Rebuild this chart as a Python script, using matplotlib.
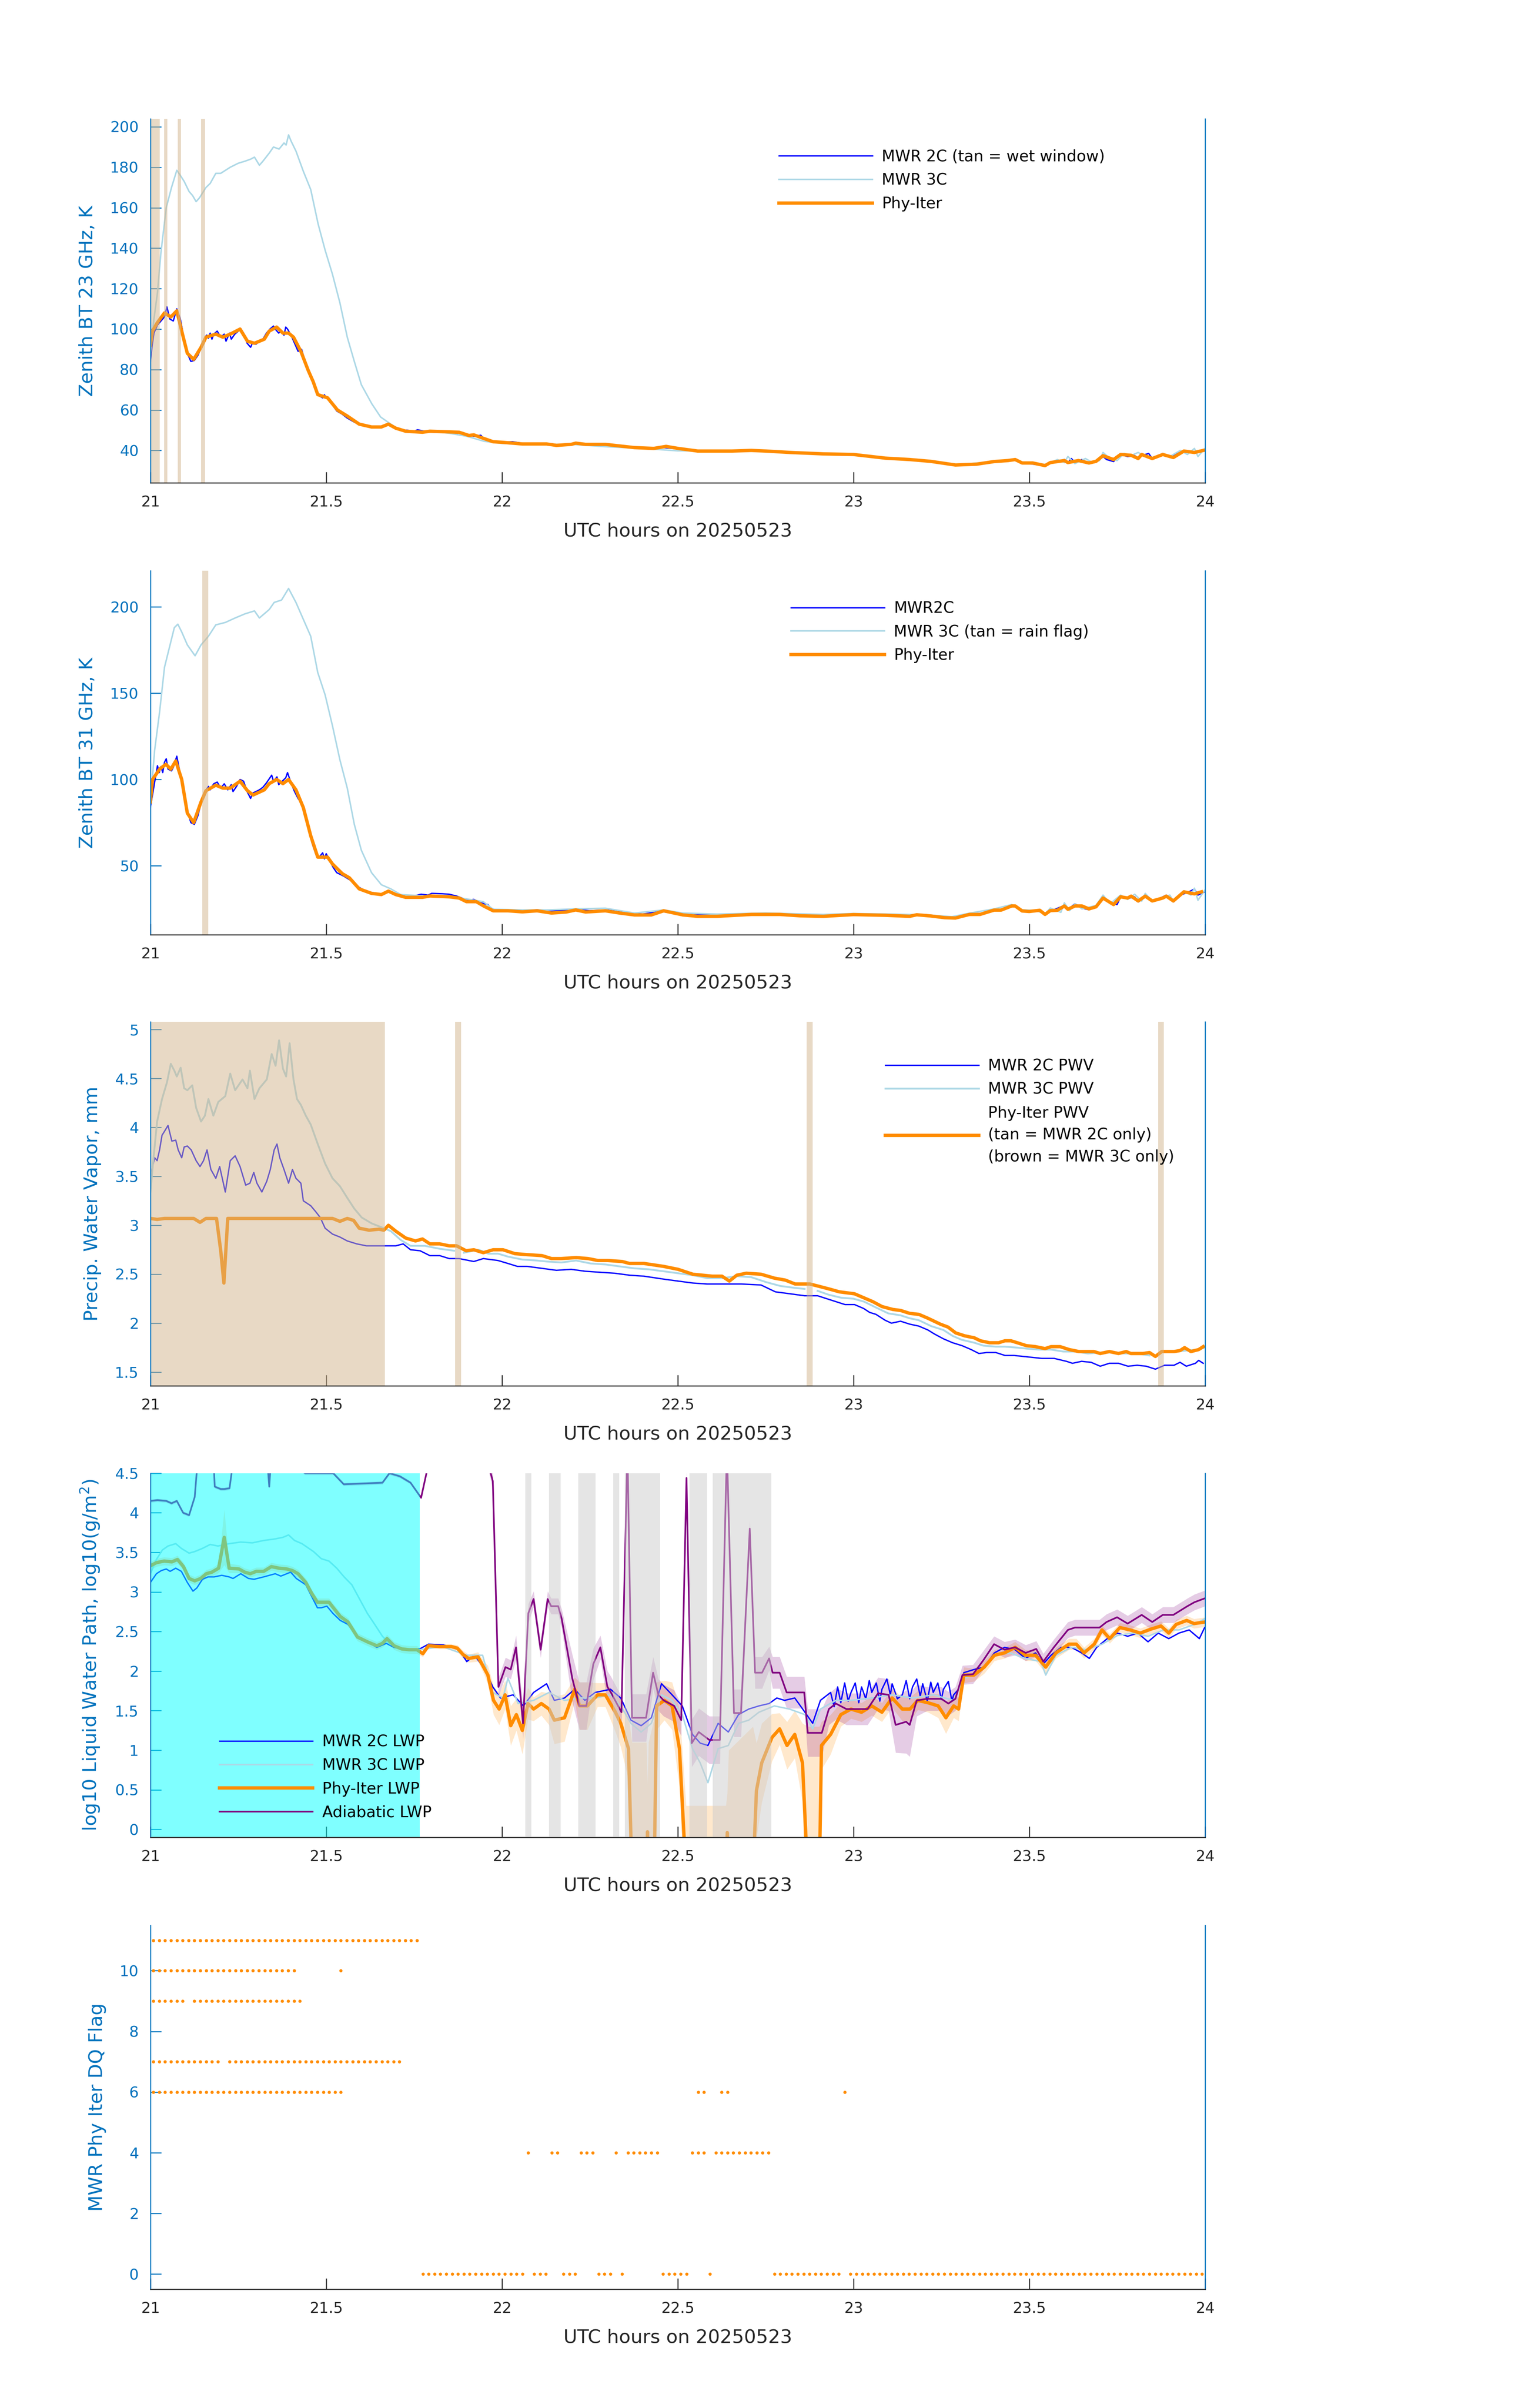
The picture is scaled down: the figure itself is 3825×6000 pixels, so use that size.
import numpy as np
import matplotlib
matplotlib.use('Agg')
import matplotlib.pyplot as plt
from matplotlib.ticker import FormatStrFormatter

# colours
AX_BLUE = '#0072BD'
DARK = '#262626'
ORANGE = '#FF8C00'

hour_ticks = [21, 21.5, 22, 22.5, 23, 23.5, 24]

# ---------------- panel 1: 23 GHz brightness temperature (hour, K)
bt23_2c = [(21.0, 84), (21.005, 92), (21.01, 98), (21.02, 102), (21.03, 104), (21.04, 106), (21.047, 111),
           (21.055, 105), (21.065, 104), (21.075, 110), (21.085, 105), (21.095, 96), (21.105, 88), (21.115, 84),
           (21.125, 84.5), (21.135, 87), (21.145, 91), (21.155, 96), (21.16, 97), (21.165, 95.5), (21.17, 98),
           (21.175, 95), (21.18, 97.5), (21.19, 99), (21.2, 96), (21.21, 97.5), (21.215, 94), (21.225, 98),
           (21.23, 95), (21.24, 97.5), (21.25, 99), (21.255, 100.5), (21.265, 98), (21.275, 93), (21.285, 91),
           (21.29, 93), (21.3, 92.5), (21.31, 94), (21.32, 95), (21.33, 98), (21.34, 100), (21.35, 101.5),
           (21.355, 100), (21.365, 98), (21.37, 99), (21.38, 97), (21.385, 101), (21.39, 100), (21.4, 97),
           (21.41, 93), (21.42, 89), (21.43, 90), (21.44, 84), (21.45, 79), (21.46, 75), (21.47, 70), (21.48, 67),
           (21.49, 66), (21.495, 67.5), (21.5, 66), (21.51, 65), (21.52, 62), (21.53, 59.5), (21.545, 58),
           (21.56, 56), (21.58, 54), (21.6, 52.5), (21.62, 51.8), (21.64, 51.5), (21.66, 52), (21.675, 53),
           (21.69, 51.5), (21.71, 50), (21.73, 50), (21.75, 49.5), (21.76, 50.2), (21.78, 49.5), (21.8, 49.8),
           (21.83, 49.3), (21.85, 49.5), (21.87, 48), (21.88, 49), (21.9, 47.5), (21.92, 47), (21.94, 47.5),
           (21.95, 45.5), (21.97, 44.5), (22.0, 44), (22.03, 44.3), (22.06, 43.5), (22.1, 43.2), (22.13, 43.5),
           (22.16, 42.8), (22.2, 43.3), (22.25, 43), (22.3, 42.6), (22.35, 41.8), (22.4, 41.2), (22.45, 41.5),
           (22.5, 40.8), (22.55, 39.9), (22.6, 39.8), (22.65, 39.7), (22.7, 40.1), (22.75, 39.8), (22.8, 39.3),
           (22.85, 38.9), (22.9, 38.5), (22.95, 38.3), (23.0, 38), (23.05, 37.3), (23.1, 36.3), (23.15, 35.7),
           (23.2, 35), (23.25, 34), (23.3, 33), (23.35, 33.2), (23.4, 34.3), (23.43, 35), (23.45, 35.5),
           (23.47, 34.5), (23.5, 33.5), (23.52, 33), (23.54, 32.7), (23.56, 34), (23.58, 34.5), (23.6, 35.5),
           (23.61, 34), (23.62, 36), (23.63, 34), (23.65, 35.5), (23.67, 33.5), (23.69, 34.5), (23.71, 37),
           (23.72, 35.5), (23.74, 34.5), (23.75, 36.5), (23.76, 38), (23.78, 37), (23.8, 37.5), (23.81, 36),
           (23.82, 37.5), (23.84, 38.5), (23.85, 36), (23.87, 37.5), (23.88, 38.5), (23.9, 37), (23.92, 38.5),
           (23.94, 39.5), (23.96, 39), (23.98, 39.5), (24.0, 40)]
bt23_3c = [(21.0, 88), (21.01, 105), (21.02, 118), (21.03, 138), (21.045, 160), (21.06, 170), (21.075, 178.5),
           (21.085, 176), (21.096, 173), (21.11, 168), (21.12, 166), (21.13, 163), (21.14, 165), (21.158, 170),
           (21.17, 172), (21.186, 177), (21.2, 177), (21.227, 180), (21.25, 182), (21.269, 183), (21.285, 184),
           (21.296, 185), (21.31, 181), (21.32, 183), (21.338, 187), (21.35, 190), (21.366, 189), (21.38, 192),
           (21.386, 191), (21.393, 196), (21.4, 193), (21.414, 188), (21.435, 178), (21.456, 169), (21.477, 152),
           (21.497, 139), (21.518, 127), (21.539, 113), (21.56, 96), (21.58, 84), (21.6, 72.5), (21.63, 63),
           (21.655, 56.5), (21.684, 53), (21.71, 50), (21.75, 49.5), (21.8, 49.5), (21.85, 48.5), (21.9, 47),
           (21.95, 44.5), (22.0, 43.5), (22.1, 43), (22.2, 43), (22.3, 41.8), (22.4, 41), (22.5, 39.8),
           (22.6, 39.8), (22.7, 40), (22.8, 39.5), (22.9, 38.6), (23.0, 38), (23.1, 36.2), (23.2, 35), (23.3, 33),
           (23.4, 34.5), (23.45, 35.5), (23.48, 34), (23.52, 33.5), (23.55, 33), (23.58, 35.5), (23.6, 34),
           (23.61, 37), (23.63, 33.5), (23.66, 36), (23.68, 34), (23.7, 35), (23.71, 39), (23.73, 36), (23.75, 35),
           (23.77, 38.5), (23.79, 37.5), (23.81, 39), (23.83, 37), (23.85, 36), (23.88, 38), (23.9, 37),
           (23.93, 40), (23.95, 38), (23.97, 41), (23.98, 37), (24.0, 41)]
bt23_phy = [(21.0, 92), (21.006, 99), (21.019, 103), (21.04, 108), (21.058, 106), (21.075, 109), (21.089, 99),
            (21.105, 88), (21.123, 85), (21.144, 91), (21.158, 96), (21.186, 97.5), (21.206, 96), (21.227, 97.5),
            (21.255, 100), (21.276, 94), (21.296, 93), (21.324, 95), (21.338, 99), (21.359, 101), (21.377, 98),
            (21.393, 98), (21.407, 96), (21.428, 89), (21.449, 79.5), (21.463, 74), (21.476, 67.6), (21.504, 66),
            (21.532, 60), (21.56, 57), (21.594, 53), (21.629, 51.6), (21.657, 51.6), (21.677, 53), (21.698, 51),
            (21.726, 49.5), (21.774, 49), (21.795, 49.5), (21.878, 49), (21.906, 47.4), (21.92, 47.7),
            (21.947, 46), (21.975, 44.3), (22.003, 44), (22.058, 43.2), (22.127, 43.2), (22.155, 42.5),
            (22.197, 43), (22.21, 43.6), (22.238, 43), (22.294, 43), (22.377, 41.4), (22.432, 41), (22.467, 42),
            (22.501, 41), (22.557, 39.7), (22.654, 39.7), (22.709, 40), (22.751, 39.7), (22.82, 39),
            (22.914, 38.3), (23.0, 38), (23.09, 36.2), (23.16, 35.5), (23.22, 34.6), (23.29, 32.8), (23.35, 33.2),
            (23.4, 34.5), (23.44, 35), (23.46, 35.5), (23.48, 33.8), (23.51, 33.8), (23.545, 32.5), (23.56, 34),
            (23.6, 35), (23.61, 34), (23.64, 35), (23.67, 33.8), (23.69, 34.6), (23.71, 37.4), (23.74, 35.5),
            (23.76, 38), (23.79, 37.6), (23.81, 36), (23.82, 38), (23.85, 36), (23.88, 38), (23.91, 36.5),
            (23.94, 39.7), (23.97, 39), (23.995, 40)]
bt23_wet = [(21.0, 21.026), (21.039, 21.048), (21.078, 21.087), (21.144, 21.155)]

# ---------------- panel 2: 31 GHz brightness temperature
bt31_2c = [(21.0, 84), (21.01, 96), (21.015, 102), (21.02, 108), (21.025, 104), (21.03, 107.5), (21.035, 104),
           (21.04, 110), (21.045, 112), (21.05, 106), (21.06, 105), (21.065, 107), (21.075, 113.5), (21.085, 103),
           (21.095, 93), (21.105, 82), (21.115, 75), (21.125, 74), (21.135, 79), (21.145, 87), (21.155, 93),
           (21.165, 96), (21.17, 94), (21.18, 97.5), (21.19, 98.5), (21.2, 95), (21.21, 97.5), (21.22, 94),
           (21.23, 97), (21.235, 93), (21.245, 96), (21.255, 100), (21.265, 99), (21.275, 93), (21.285, 89),
           (21.29, 92), (21.3, 93), (21.31, 94), (21.32, 95.5), (21.33, 98), (21.34, 101), (21.345, 102.5),
           (21.35, 99), (21.36, 101.5), (21.365, 97), (21.375, 99), (21.385, 101), (21.39, 104), (21.4, 98),
           (21.41, 93), (21.42, 89), (21.43, 86), (21.44, 78), (21.45, 71), (21.46, 63), (21.47, 57), (21.48, 55),
           (21.49, 57.5), (21.495, 54), (21.5, 57), (21.51, 53), (21.52, 49), (21.53, 46), (21.54, 45),
           (21.55, 44), (21.57, 41.5), (21.59, 38), (21.61, 35.5), (21.63, 34.5), (21.66, 33.5), (21.68, 35),
           (21.7, 33), (21.72, 32), (21.75, 32.5), (21.77, 33.5), (21.79, 33), (21.8, 34), (21.83, 33.8),
           (21.85, 33.5), (21.87, 32.5), (21.89, 31), (21.9, 30), (21.92, 30.5), (21.94, 28.5), (21.96, 27.5),
           (21.97, 25), (22.0, 24.2), (22.02, 23.8), (22.05, 24.3), (22.08, 24), (22.1, 24.5), (22.13, 23.5),
           (22.16, 24), (22.2, 24.8), (22.25, 24), (22.3, 24.4), (22.35, 23), (22.4, 22), (22.45, 23.5),
           (22.5, 22.4), (22.55, 21.5), (22.6, 21.5), (22.65, 21.8), (22.7, 22), (22.75, 22), (22.8, 21.6),
           (22.85, 21.5), (22.9, 21.2), (22.95, 21.4), (23.0, 22), (23.05, 21.6), (23.1, 21.5), (23.15, 21.2),
           (23.2, 21.7), (23.25, 20.8), (23.29, 20), (23.33, 22), (23.37, 22.5), (23.4, 24.5), (23.43, 25),
           (23.46, 27), (23.48, 24), (23.5, 23.5), (23.53, 24), (23.545, 22), (23.57, 24.5), (23.6, 27),
           (23.61, 24.5), (23.63, 28), (23.65, 25.5), (23.67, 24.5), (23.69, 26.5), (23.71, 31), (23.73, 28.5),
           (23.75, 27.5), (23.76, 32), (23.78, 31), (23.8, 32), (23.81, 29), (23.83, 32), (23.85, 29.5),
           (23.87, 31), (23.89, 33), (23.91, 29), (23.93, 33), (23.95, 34.5), (23.97, 36.5), (23.98, 33),
           (24.0, 35)]
bt31_3c = [(21.0, 87), (21.012, 117), (21.026, 139), (21.04, 165), (21.054, 176.5), (21.068, 188), (21.078, 190),
           (21.089, 185.5), (21.105, 178), (21.127, 171.7), (21.144, 178), (21.165, 183), (21.186, 189.6),
           (21.213, 191), (21.241, 193.6), (21.269, 196), (21.296, 197.7), (21.31, 193.6), (21.338, 198.5),
           (21.352, 202.6), (21.373, 204), (21.393, 210.7), (21.414, 202.6), (21.435, 192.8), (21.456, 183),
           (21.476, 162), (21.497, 149), (21.518, 131), (21.539, 111.4), (21.56, 95), (21.58, 74), (21.6, 59),
           (21.629, 46), (21.657, 39), (21.684, 36.6), (21.712, 33.3), (21.781, 32.5), (21.85, 32.5),
           (21.892, 31), (21.947, 29.2), (21.975, 24.8), (22.058, 24.4), (22.127, 24.4), (22.21, 25),
           (22.294, 25.4), (22.377, 22.6), (22.46, 24.4), (22.515, 22.6), (22.612, 22), (22.75, 22.6),
           (22.914, 21.8), (23.0, 22.3), (23.1, 22), (23.2, 21.6), (23.28, 20.5), (23.33, 22.5), (23.4, 25),
           (23.45, 27.5), (23.48, 24.5), (23.52, 24), (23.545, 22), (23.56, 25.5), (23.59, 23), (23.6, 28.5),
           (23.615, 24), (23.63, 28), (23.65, 25), (23.67, 26), (23.69, 27), (23.71, 33), (23.73, 28), (23.76, 33),
           (23.78, 30.5), (23.8, 33.5), (23.82, 29.5), (23.83, 34), (23.85, 29.5), (23.88, 31.5), (23.9, 33),
           (23.91, 29.5), (23.94, 35.5), (23.96, 33), (23.97, 37), (23.98, 30), (24.0, 36)]
bt31_phy = [(21.0, 87), (21.006, 100), (21.026, 106), (21.044, 108.8), (21.058, 106), (21.072, 110.7),
            (21.089, 100), (21.105, 80.5), (21.123, 75), (21.144, 87), (21.158, 93.5), (21.186, 96.7),
            (21.206, 95), (21.227, 95), (21.255, 99), (21.276, 93.5), (21.292, 91), (21.324, 94), (21.338, 97.6),
            (21.359, 100), (21.377, 97.6), (21.393, 100), (21.414, 94), (21.435, 83.7), (21.456, 67.4),
            (21.476, 55), (21.504, 55), (21.518, 51), (21.546, 45.4), (21.566, 43), (21.594, 36.6), (21.629, 34),
            (21.657, 33.3), (21.677, 35.3), (21.698, 33.3), (21.726, 31.7), (21.774, 31.7), (21.795, 32.5),
            (21.85, 32), (21.878, 31.3), (21.899, 29.2), (21.927, 29.2), (21.947, 26.8), (21.975, 23.9),
            (22.017, 23.9), (22.058, 23.3), (22.1, 23.9), (22.141, 22.6), (22.183, 23.2), (22.21, 24.4),
            (22.238, 23.2), (22.294, 23.9), (22.335, 22.6), (22.377, 21.5), (22.425, 21.5), (22.46, 23.9),
            (22.515, 21.5), (22.557, 20.7), (22.612, 20.7), (22.71, 21.8), (22.79, 21.8), (22.848, 21),
            (22.914, 20.7), (23.0, 21.7), (23.09, 21.3), (23.16, 20.7), (23.18, 21.6), (23.22, 20.9),
            (23.26, 19.9), (23.29, 19.7), (23.33, 21.8), (23.36, 21.8), (23.4, 24.3), (23.42, 24.3), (23.45, 26.7),
            (23.46, 26.7), (23.48, 23.8), (23.5, 23.5), (23.53, 24.2), (23.545, 21.8), (23.56, 24), (23.58, 24.2),
            (23.6, 26.7), (23.61, 24.8), (23.63, 26.7), (23.65, 26.7), (23.67, 25), (23.69, 26.2), (23.71, 31.3),
            (23.74, 27.5), (23.76, 32), (23.78, 31.3), (23.79, 32.4), (23.81, 29.6), (23.83, 32.4), (23.85, 29.6),
            (23.88, 31.3), (23.89, 32.4), (23.91, 29.6), (23.94, 34.9), (23.97, 33.7), (23.99, 34.9)]
bt31_rain = [(21.148, 21.165)]

# ---------------- panel 3: precipitable water vapour (mm)
pwv_2c = [(21.0, 3.4), (21.006, 3.6), (21.012, 3.69), (21.019, 3.66), (21.026, 3.77), (21.033, 3.92),
          (21.04, 3.96), (21.05, 4.02), (21.061, 3.86), (21.072, 3.87), (21.079, 3.77), (21.089, 3.69),
          (21.096, 3.8), (21.105, 3.81), (21.116, 3.77), (21.13, 3.66), (21.141, 3.6), (21.151, 3.66),
          (21.161, 3.77), (21.172, 3.57), (21.186, 3.48), (21.197, 3.6), (21.213, 3.34), (21.227, 3.66),
          (21.241, 3.71), (21.255, 3.6), (21.271, 3.41), (21.283, 3.43), (21.294, 3.54), (21.303, 3.43),
          (21.317, 3.34), (21.331, 3.45), (21.341, 3.57), (21.352, 3.77), (21.36, 3.83), (21.368, 3.69),
          (21.38, 3.57), (21.393, 3.43), (21.404, 3.57), (21.414, 3.48), (21.428, 3.43), (21.435, 3.25),
          (21.456, 3.2), (21.47, 3.14), (21.483, 3.08), (21.497, 2.97), (21.518, 2.91), (21.539, 2.88),
          (21.56, 2.84), (21.587, 2.81), (21.615, 2.79), (21.657, 2.79), (21.698, 2.79), (21.719, 2.81),
          (21.74, 2.75), (21.767, 2.74), (21.795, 2.69), (21.823, 2.69), (21.85, 2.66), (21.878, 2.66),
          (21.92, 2.63), (21.947, 2.66), (21.989, 2.64), (22.017, 2.61), (22.044, 2.58), (22.072, 2.58),
          (22.114, 2.56), (22.155, 2.54), (22.197, 2.55), (22.238, 2.53), (22.28, 2.52), (22.321, 2.51),
          (22.363, 2.49), (22.404, 2.48), (22.46, 2.45), (22.501, 2.43), (22.543, 2.41), (22.584, 2.4),
          (22.626, 2.4), (22.681, 2.4), (22.737, 2.39), (22.778, 2.32), (22.82, 2.3), (22.861, 2.28),
          (22.898, 2.28), (22.924, 2.25), (22.95, 2.22), (22.976, 2.19), (23.003, 2.19), (23.029, 2.15),
          (23.046, 2.11), (23.064, 2.09), (23.09, 2.03), (23.108, 2.0), (23.134, 2.02), (23.16, 1.99),
          (23.186, 1.97), (23.212, 1.93), (23.23, 1.89), (23.256, 1.84), (23.282, 1.8), (23.309, 1.77),
          (23.335, 1.73), (23.357, 1.69), (23.379, 1.7), (23.405, 1.7), (23.431, 1.67), (23.457, 1.67),
          (23.483, 1.66), (23.51, 1.65), (23.536, 1.64), (23.571, 1.64), (23.606, 1.61), (23.623, 1.59),
          (23.649, 1.61), (23.676, 1.6), (23.702, 1.56), (23.728, 1.59), (23.754, 1.59), (23.781, 1.56),
          (23.807, 1.57), (23.833, 1.56), (23.859, 1.53), (23.885, 1.57), (23.912, 1.57), (23.929, 1.6),
          (23.947, 1.56), (23.973, 1.59), (23.982, 1.62), (23.995, 1.59)]
pwv_3c = [(21.0, 3.34), (21.008, 3.66), (21.019, 4.06), (21.033, 4.29), (21.047, 4.46), (21.058, 4.65),
          (21.068, 4.58), (21.075, 4.52), (21.086, 4.61), (21.096, 4.4), (21.105, 4.38), (21.119, 4.43),
          (21.13, 4.2), (21.144, 4.06), (21.155, 4.12), (21.165, 4.29), (21.179, 4.12), (21.193, 4.26),
          (21.213, 4.32), (21.227, 4.55), (21.241, 4.38), (21.262, 4.49), (21.276, 4.4), (21.283, 4.58),
          (21.296, 4.29), (21.31, 4.4), (21.331, 4.49), (21.345, 4.75), (21.356, 4.63), (21.366, 4.89),
          (21.377, 4.6), (21.386, 4.52), (21.396, 4.86), (21.407, 4.49), (21.417, 4.29), (21.428, 4.23),
          (21.442, 4.12), (21.456, 4.03), (21.476, 3.83), (21.497, 3.63), (21.518, 3.48), (21.539, 3.4),
          (21.56, 3.28), (21.58, 3.17), (21.601, 3.08), (21.629, 3.02), (21.657, 2.98), (21.684, 2.94),
          (21.712, 2.85), (21.74, 2.79), (21.781, 2.79), (21.823, 2.76), (21.864, 2.74), (21.875, np.nan),
          (21.892, 2.72), (21.934, 2.75), (21.961, 2.71), (21.989, 2.71), (22.017, 2.68), (22.058, 2.65),
          (22.1, 2.64), (22.127, 2.63), (22.169, 2.62), (22.211, 2.64), (22.252, 2.61), (22.294, 2.6),
          (22.335, 2.58), (22.377, 2.56), (22.418, 2.55), (22.46, 2.53), (22.501, 2.51), (22.543, 2.49),
          (22.584, 2.46), (22.626, 2.46), (22.668, 2.48), (22.709, 2.47), (22.751, 2.42), (22.792, 2.38),
          (22.834, 2.36), (22.861, 2.35), (22.876, np.nan), (22.898, 2.33), (22.93, 2.29), (22.965, 2.26),
          (23.0, 2.25), (23.03, 2.22), (23.064, 2.16), (23.099, 2.1), (23.134, 2.08), (23.16, 2.05),
          (23.186, 2.03), (23.221, 1.97), (23.256, 1.93), (23.282, 1.87), (23.308, 1.83), (23.344, 1.8),
          (23.37, 1.77), (23.405, 1.76), (23.431, 1.76), (23.466, 1.75), (23.492, 1.74), (23.527, 1.73),
          (23.562, 1.73), (23.597, 1.71), (23.632, 1.71), (23.667, 1.69), (23.702, 1.7), (23.737, 1.7),
          (23.772, 1.69), (23.807, 1.69), (23.842, 1.67), (23.875, np.nan), (23.912, 1.71), (23.947, 1.72),
          (23.982, 1.73), (23.999, 1.75)]
pwv_phy = [(21.0, 3.07), (21.019, 3.06), (21.04, 3.07), (21.102, 3.07), (21.123, 3.07), (21.141, 3.03),
           (21.158, 3.07), (21.188, 3.07), (21.2, 2.74), (21.209, 2.41), (21.22, 3.07), (21.518, 3.07),
           (21.539, 3.04), (21.56, 3.07), (21.578, 3.05), (21.594, 2.97), (21.622, 2.95), (21.65, 2.96),
           (21.664, 2.95), (21.677, 3.0), (21.698, 2.94), (21.726, 2.87), (21.754, 2.84), (21.774, 2.86),
           (21.795, 2.81), (21.823, 2.81), (21.85, 2.79), (21.871, 2.79), (21.898, 2.74), (21.92, 2.75),
           (21.947, 2.72), (21.975, 2.75), (22.003, 2.75), (22.037, 2.71), (22.072, 2.7), (22.114, 2.69),
           (22.141, 2.66), (22.169, 2.66), (22.211, 2.67), (22.245, 2.66), (22.273, 2.64), (22.301, 2.64),
           (22.342, 2.63), (22.363, 2.61), (22.404, 2.61), (22.46, 2.58), (22.501, 2.55), (22.543, 2.5),
           (22.598, 2.48), (22.626, 2.48), (22.647, 2.43), (22.668, 2.49), (22.695, 2.51), (22.737, 2.5),
           (22.775, 2.46), (22.806, 2.44), (22.834, 2.4), (22.876, 2.4), (22.898, 2.38), (22.93, 2.35),
           (22.96, 2.32), (23.003, 2.3), (23.029, 2.26), (23.055, 2.22), (23.081, 2.17), (23.112, 2.14),
           (23.134, 2.13), (23.16, 2.1), (23.186, 2.09), (23.212, 2.05), (23.247, 1.99), (23.269, 1.96),
           (23.291, 1.9), (23.317, 1.87), (23.344, 1.85), (23.361, 1.82), (23.387, 1.8), (23.413, 1.8),
           (23.431, 1.82), (23.448, 1.82), (23.466, 1.8), (23.492, 1.77), (23.518, 1.76), (23.545, 1.74),
           (23.562, 1.76), (23.588, 1.76), (23.614, 1.73), (23.641, 1.71), (23.684, 1.71), (23.702, 1.69),
           (23.728, 1.71), (23.754, 1.69), (23.776, 1.71), (23.789, 1.69), (23.824, 1.69), (23.842, 1.7),
           (23.859, 1.66), (23.877, 1.71), (23.912, 1.71), (23.929, 1.72), (23.942, 1.75), (23.96, 1.71),
           (23.982, 1.73), (23.995, 1.76)]
pwv_2c_only_min = [(0, 39), (52, 52), (112, 112), (172, 172)]   # minute runs after 21 UTC

# ---------------- panel 4: log10 liquid water path
lwp_2c = [(21.0, 3.12), (21.017, 3.23), (21.031, 3.27), (21.045, 3.29), (21.056, 3.26), (21.072, 3.3),
          (21.088, 3.26), (21.105, 3.12), (21.121, 3.01), (21.132, 3.05), (21.148, 3.16), (21.164, 3.19),
          (21.181, 3.19), (21.203, 3.21), (21.224, 3.19), (21.235, 3.17), (21.257, 3.23), (21.279, 3.17),
          (21.295, 3.16), (21.322, 3.19), (21.355, 3.23), (21.371, 3.2), (21.388, 3.23), (21.399, 3.25),
          (21.415, 3.17), (21.442, 3.09), (21.459, 2.94), (21.475, 2.8), (21.486, 2.8), (21.502, 2.82),
          (21.519, 2.73), (21.54, 2.64), (21.562, 2.59), (21.589, 2.43), (21.617, 2.37), (21.644, 2.3),
          (21.671, 2.35), (21.693, 2.3), (21.725, 2.27), (21.766, 2.28), (21.791, 2.34), (21.834, 2.33),
          (21.878, 2.27), (21.9, 2.12), (21.922, 2.2), (21.952, 2.02), (21.974, 1.8), (21.996, 1.66),
          (22.032, 1.7), (22.061, 1.56), (22.09, 1.73), (22.127, 1.84), (22.149, 1.63), (22.178, 1.66),
          (22.207, 1.77), (22.236, 1.63), (22.265, 1.73), (22.309, 1.77), (22.338, 1.66), (22.367, 1.38),
          (22.396, 1.31), (22.425, 1.41), (22.454, 1.84), (22.484, 1.7), (22.513, 1.56), (22.542, 1.2),
          (22.564, 1.09), (22.586, 1.06), (22.615, 1.34), (22.644, 1.23), (22.673, 1.45), (22.702, 1.52),
          (22.731, 1.56), (22.76, 1.59), (22.782, 1.66), (22.804, 1.63), (22.833, 1.66), (22.862, 1.48),
          (22.884, 1.34), (22.906, 1.63), (22.935, 1.73), (22.945, 1.55), (22.955, 1.8), (22.964, 1.6),
          (22.975, 1.85), (22.985, 1.62), (22.993, 1.73), (23.005, 1.85), (23.015, 1.6), (23.023, 1.8),
          (23.035, 1.65), (23.045, 1.88), (23.052, 1.73), (23.065, 1.85), (23.075, 1.62), (23.081, 1.77),
          (23.095, 1.9), (23.105, 1.7), (23.11, 1.84), (23.125, 1.65), (23.139, 1.7), (23.15, 1.88),
          (23.16, 1.65), (23.168, 1.8), (23.18, 1.9), (23.19, 1.68), (23.197, 1.84), (23.21, 1.62),
          (23.22, 1.86), (23.227, 1.73), (23.24, 1.85), (23.25, 1.64), (23.256, 1.77), (23.27, 1.87),
          (23.28, 1.62), (23.285, 1.7), (23.299, 1.77), (23.314, 1.98), (23.343, 2.02), (23.372, 2.05),
          (23.401, 2.23), (23.43, 2.3), (23.46, 2.27), (23.489, 2.16), (23.518, 2.23), (23.54, 2.09),
          (23.562, 2.2), (23.591, 2.3), (23.62, 2.3), (23.649, 2.23), (23.671, 2.16), (23.692, 2.3),
          (23.722, 2.41), (23.751, 2.48), (23.78, 2.44), (23.809, 2.48), (23.838, 2.37), (23.867, 2.48),
          (23.897, 2.41), (23.926, 2.48), (23.955, 2.52), (23.984, 2.41), (23.999, 2.55)]
lwp_3c = [(21.0, 3.23), (21.017, 3.41), (21.034, 3.53), (21.05, 3.58), (21.072, 3.61), (21.088, 3.55),
          (21.11, 3.49), (21.126, 3.51), (21.148, 3.55), (21.17, 3.6), (21.192, 3.58), (21.224, 3.61),
          (21.257, 3.63), (21.29, 3.62), (21.322, 3.65), (21.355, 3.67), (21.377, 3.69), (21.393, 3.72),
          (21.41, 3.65), (21.431, 3.61), (21.464, 3.51), (21.486, 3.42), (21.508, 3.39), (21.53, 3.3),
          (21.551, 3.19), (21.573, 3.09), (21.595, 2.91), (21.617, 2.73), (21.638, 2.59), (21.66, 2.44),
          (21.682, 2.34), (21.704, 2.3), (21.725, 2.27), (21.766, 2.27), (21.83, 2.31), (21.9, 2.2),
          (21.945, 2.2), (21.974, 1.73), (22.003, 1.66), (22.017, 1.91), (22.046, 1.59), (22.09, 1.63),
          (22.134, 1.73), (22.178, 1.63), (22.222, 1.66), (22.265, 1.66), (22.309, 1.7), (22.338, 1.56),
          (22.367, 1.34), (22.396, 1.23), (22.425, 1.34), (22.454, 1.7), (22.484, 1.63), (22.513, 1.45),
          (22.542, 1.02), (22.564, 0.84), (22.586, 0.59), (22.615, 1.02), (22.644, 1.06), (22.673, 1.34),
          (22.702, 1.38), (22.731, 1.48), (22.775, 1.56), (22.818, 1.52), (22.862, 1.45), (22.884, 1.27),
          (22.906, 1.52), (22.95, 1.63), (22.993, 1.63), (23.052, 1.66), (23.11, 1.7), (23.168, 1.66),
          (23.227, 1.7), (23.285, 1.63), (23.314, 1.91), (23.358, 1.98), (23.401, 2.2), (23.445, 2.23),
          (23.489, 2.16), (23.533, 2.12), (23.547, 1.95), (23.576, 2.2), (23.62, 2.3), (23.663, 2.27),
          (23.707, 2.34), (23.751, 2.45), (23.795, 2.48), (23.838, 2.44), (23.882, 2.52), (23.926, 2.52),
          (23.97, 2.59), (23.999, 2.66)]
# (hour, value, uncertainty)
lwp_phy = [(21.0, 3.33, .05), (21.017, 3.37, .05), (21.039, 3.39, .05), (21.061, 3.38, .05), (21.077, 3.41, .05),
           (21.094, 3.32, .05), (21.11, 3.17, .05), (21.126, 3.14, .05), (21.143, 3.17, .05), (21.159, 3.23, .05),
           (21.175, 3.25, .05), (21.194, 3.3, .06), (21.21, 3.69, .35), (21.224, 3.3, .06), (21.252, 3.29, .05),
           (21.268, 3.25, .05), (21.284, 3.23, .05), (21.301, 3.26, .05), (21.322, 3.26, .05), (21.344, 3.32, .05),
           (21.366, 3.3, .05), (21.388, 3.29, .05), (21.404, 3.27, .05), (21.42, 3.23, .05), (21.442, 3.12, .05),
           (21.459, 2.98, .05), (21.475, 2.87, .05), (21.508, 2.87, .05), (21.524, 2.78, .05), (21.54, 2.69, .05),
           (21.562, 2.62, .05), (21.589, 2.43, .05), (21.617, 2.37, .05), (21.644, 2.32, .05), (21.66, 2.35, .05),
           (21.673, 2.41, .05), (21.693, 2.32, .05), (21.715, 2.28, .05), (21.736, 2.27, .05), (21.758, 2.27, .05),
           (21.775, 2.22, .04), (21.791, 2.32, .03), (21.824, 2.31, .03), (21.856, 2.31, .03), (21.873, 2.29, .04),
           (21.889, 2.21, .05), (21.905, 2.16, .05), (21.932, 2.18, .06), (21.949, 2.04, .08), (21.96, 1.95, .12),
           (21.976, 1.63, .18), (21.992, 1.52, .2), (22.009, 1.7, .18), (22.025, 1.31, .25), (22.041, 1.45, .2),
           (22.058, 1.25, .3), (22.074, 1.59, .2), (22.09, 1.52, .15), (22.112, 1.59, .15), (22.134, 1.52, .2),
           (22.149, 1.38, .3), (22.178, 1.41, .3), (22.207, 1.77, .15), (22.221, 1.56, .3), (22.243, 1.56, .3),
           (22.272, 1.7, .15), (22.294, 1.7, .15), (22.323, 1.48, .25), (22.338, 1.34, .3), (22.36, 1.02, .4),
           (22.37, -0.6, 1.7), (22.411, -0.6, 1.7), (22.414, -0.03, .6), (22.417, -0.6, 1.7), (22.433, -0.6, 2.0),
           (22.44, 1.56, .3), (22.462, 1.63, .25), (22.484, 1.56, .3), (22.505, 1.02, .5), (22.524, -0.6, 0.9),
           (22.637, -0.6, 0.9), (22.641, -0.04, .5), (22.645, -0.6, 1.6), (22.714, -0.6, 1.9), (22.724, 0.49, .6),
           (22.739, 0.84, .5), (22.768, 1.16, .3), (22.79, 1.27, .2), (22.811, 1.06, .3), (22.833, 1.2, .3),
           (22.855, 0.84, .5), (22.87, -0.6, 1.9), (22.903, -0.6, 1.9), (22.909, 1.06, .3), (22.935, 1.2, .25),
           (22.964, 1.45, .15), (22.993, 1.52, .12), (23.023, 1.48, .12), (23.052, 1.56, .12), (23.081, 1.48, .12),
           (23.11, 1.66, .12), (23.139, 1.52, .15), (23.161, 1.52, .15), (23.183, 1.63, .12), (23.212, 1.6, .12),
           (23.241, 1.56, .15), (23.263, 1.41, .2), (23.285, 1.56, .15), (23.299, 1.52, .15), (23.314, 1.95, .1),
           (23.343, 1.95, .08), (23.372, 2.05, .08), (23.401, 2.2, .07), (23.43, 2.23, .07), (23.46, 2.3, .07),
           (23.489, 2.2, .07), (23.518, 2.2, .07), (23.547, 2.05, .08), (23.576, 2.23, .07), (23.613, 2.34, .07),
           (23.634, 2.34, .07), (23.656, 2.23, .07), (23.685, 2.34, .07), (23.707, 2.52, .06), (23.729, 2.41, .06),
           (23.758, 2.55, .06), (23.787, 2.52, .06), (23.816, 2.48, .06), (23.846, 2.53, .06), (23.875, 2.57, .06),
           (23.897, 2.48, .06), (23.918, 2.59, .06), (23.948, 2.64, .06), (23.969, 2.6, .06), (23.999, 2.62, .06)]
lwp_adi = [(21.0, 4.15, .02), (21.02, 4.16, .02), (21.045, 4.15, .02), (21.06, 4.12, .02), (21.075, 4.15, .02),
           (21.093, 4.0, .02), (21.11, 3.97, .02), (21.126, 4.2, .02), (21.137, 4.8, .02), (21.178, 4.8, .02),
           (21.183, 4.33, .02), (21.2, 4.3, .02), (21.21, 4.3, .02), (21.225, 4.31, .02), (21.24, 4.8, .02),
           (21.33, 4.8, .02), (21.338, 4.33, .02), (21.345, 4.8, .02), (21.44, 4.5, .02), (21.52, 4.5, .02),
           (21.55, 4.36, .02), (21.66, 4.38, .02), (21.68, 4.5, .02), (21.71, 4.46, .02), (21.74, 4.38, .02),
           (21.77, 4.19, .02), (21.8, 4.8, .02), (21.95, 4.8, .05), (21.974, 4.4, .1), (21.99, 1.8, .12),
           (22.01, 2.05, .12), (22.025, 2.02, .12), (22.04, 2.3, .15), (22.06, 1.34, .2), (22.075, 2.73, .12),
           (22.09, 2.91, .1), (22.11, 2.27, .1), (22.13, 2.91, .1), (22.14, 2.82, .1), (22.16, 2.82, .1),
           (22.17, 2.66, .12), (22.2, 1.91, .3), (22.22, 1.56, .3), (22.24, 1.56, .3), (22.26, 2.09, .2),
           (22.28, 2.3, .15), (22.3, 1.8, .2), (22.31, 1.73, .2), (22.34, 1.48, .2), (22.357, 4.8, .1),
           (22.37, 1.41, .3), (22.39, 1.41, .3), (22.41, 1.41, .3), (22.43, 1.98, .2), (22.445, 1.7, .2),
           (22.46, 1.63, .2), (22.49, 1.56, .2), (22.51, 1.38, .2), (22.525, 4.44, .1), (22.54, 1.09, .3),
           (22.56, 1.23, .3), (22.59, 1.13, .3), (22.62, 1.13, .3), (22.64, 4.8, .1), (22.66, 1.47, .3),
           (22.68, 1.47, .3), (22.705, 3.8, .1), (22.72, 1.98, .2), (22.74, 1.98, .2), (22.76, 2.16, .15),
           (22.77, 1.98, .2), (22.79, 1.98, .2), (22.81, 1.73, .2), (22.86, 1.73, .2), (22.87, 1.22, .3),
           (22.91, 1.22, .3), (22.93, 1.52, .2), (22.95, 1.59, .2), (22.98, 1.52, .2), (23.01, 1.52, .2),
           (23.04, 1.52, .2), (23.07, 1.72, .2), (23.1, 1.7, .2), (23.12, 1.32, .35), (23.15, 1.36, .4),
           (23.16, 1.32, .4), (23.18, 1.63, .2), (23.21, 1.65, .15), (23.25, 1.65, .15), (23.27, 1.59, .15),
           (23.29, 1.65, .15), (23.31, 1.95, .12), (23.34, 1.96, .12), (23.37, 2.14, .12), (23.4, 2.34, .1),
           (23.43, 2.27, .1), (23.46, 2.3, .1), (23.49, 2.23, .1), (23.52, 2.28, .1), (23.54, 2.12, .1),
           (23.57, 2.3, .1), (23.61, 2.52, .1), (23.63, 2.55, .1), (23.66, 2.55, .1), (23.7, 2.55, .1),
           (23.72, 2.62, .1), (23.75, 2.68, .1), (23.78, 2.6, .1), (23.82, 2.71, .1), (23.85, 2.62, .1),
           (23.88, 2.71, .1), (23.91, 2.71, .1), (23.95, 2.82, .1), (23.97, 2.87, .1), (24.0, 2.92, .1)]

# ---------------- panel 5: DQ flag, runs of minute index (minute k is centred at 21 + (k+0.5)/60)
dq_flag_runs = {
    11: [(0, 45)],
    10: [(0, 24), (32, 32)],
    9: [(0, 5), (7, 25)],
    7: [(0, 11), (13, 42)],
    6: [(0, 32), (93, 94), (97, 98), (118, 118)],
    4: [(64, 64), (68, 69), (73, 75), (79, 79), (81, 86), (92, 94), (96, 105)],
    0: [(46, 63), (65, 67), (70, 72), (76, 78), (80, 80), (87, 91), (95, 95), (106, 117), (119, 179)],
}


def cols(rows):
    return [np.array(c, dtype=float) for c in zip(*rows)]


def minute_spans(ax, runs, color, alpha):
    for a, b in runs:
        ax.axvspan(21 + a / 60, 21 + (b + 1) / 60, color=color, alpha=alpha, lw=0, zorder=4.5)


def style(ax, ylabel):
    ax.set_xlim(21, 24)
    ax.set_xticks(hour_ticks)
    ax.xaxis.set_major_formatter(FormatStrFormatter('%g'))
    ax.yaxis.set_major_formatter(FormatStrFormatter('%g'))
    ax.spines['top'].set_visible(False)
    ax.spines['left'].set_color(AX_BLUE)
    ax.spines['right'].set_color(AX_BLUE)
    ax.spines['bottom'].set_color(DARK)
    for s in ax.spines.values():
        s.set_linewidth(0.6)
        s.set_zorder(10)
    ax.tick_params(axis='x', direction='in', length=6.4, width=0.6, colors=DARK, labelsize=9, pad=7.5)
    ax.tick_params(axis='y', direction='in', length=6.4, width=0.6, colors=AX_BLUE, labelsize=9, pad=7,
                   right=False)
    ax.set_xlabel('UTC hours on 20250523', fontsize=11.3, color=DARK, labelpad=7.5)
    ax.set_ylabel(ylabel, fontsize=11.3, color=AX_BLUE, labelpad=8)


def legend(ax, **kw):
    leg = ax.legend(frameon=False, fontsize=9.3, handlelength=6.0, handletextpad=0.6, labelspacing=0.53,
                    borderpad=0, borderaxespad=0, **kw)
    leg.set_zorder(8)
    for txt in leg.get_texts():
        txt.set_linespacing(1.55)
    return leg


fig = plt.figure(figsize=(12.75, 20), dpi=300)
L, W, H = 0.098, 0.687, 0.1512
bottoms = [0.7995, 0.6118, 0.4245, 0.237, 0.0493]
axes = [fig.add_axes([L, b, W, H]) for b in bottoms]

# panel 1
ax = axes[0]
t, v = cols(bt23_2c)
ax.plot(t, v, color='blue', lw=0.8, label='MWR 2C (tan = wet window)')
t, v = cols(bt23_3c)
ax.plot(t, v, color='lightblue', lw=0.9, label='MWR 3C')
t, v = cols(bt23_phy)
ax.plot(t, v, color=ORANGE, lw=2.0, label='Phy-Iter')
for a, b in bt23_wet:
    ax.axvspan(a, b, color='tan', alpha=0.5, lw=0, zorder=4.5)
ax.set_ylim(24, 204)
ax.set_yticks(np.arange(40, 201, 20))
style(ax, 'Zenith BT 23 GHz, K')
legend(ax, loc='upper left', bbox_to_anchor=(0.596, 0.916))

# panel 2
ax = axes[1]
t, v = cols(bt31_2c)
ax.plot(t, v, color='blue', lw=0.8, label='MWR2C')
t, v = cols(bt31_3c)
ax.plot(t, v, color='lightblue', lw=0.9, label='MWR 3C (tan = rain flag)')
t, v = cols(bt31_phy)
ax.plot(t, v, color=ORANGE, lw=2.0, label='Phy-Iter')
for a, b in bt31_rain:
    ax.axvspan(a, b, color='tan', alpha=0.5, lw=0, zorder=4.5)
ax.set_ylim(10, 221)
ax.set_yticks([50, 100, 150, 200])
style(ax, 'Zenith BT 31 GHz, K')
legend(ax, loc='upper left', bbox_to_anchor=(0.6075, 0.917))

# panel 3
ax = axes[2]
t, v = cols(pwv_2c)
ax.plot(t, v, color='blue', lw=0.8, label='MWR 2C PWV')
t, v = cols(pwv_3c)
ax.plot(t, v, color='lightblue', lw=1.1, label='MWR 3C PWV')
t, v = cols(pwv_phy)
ax.plot(t, v, color=ORANGE, lw=2.0, label='Phy-Iter PWV\n(tan = MWR 2C only)\n(brown = MWR 3C only)')
minute_spans(ax, pwv_2c_only_min, 'tan', 0.5)
ax.set_ylim(1.36, 5.08)
ax.set_yticks(np.arange(1.5, 5.01, 0.5))
style(ax, 'Precip. Water Vapor, mm')
legend(ax, loc='upper left', bbox_to_anchor=(0.697, 0.899))

# panel 4
ax = axes[3]
t, v, e = cols(lwp_phy)
ax.fill_between(t, v - e, v + e, color=ORANGE, alpha=0.2, lw=0)
t2, v2, e2 = cols(lwp_adi)
ax.fill_between(t2, v2 - e2, v2 + e2, color='purple', alpha=0.2, lw=0)
tb, vb = cols(lwp_2c)
ax.plot(tb, vb, color='blue', lw=0.8, label='MWR 2C LWP')
tl, vl = cols(lwp_3c)
ax.plot(tl, vl, color='lightblue', lw=0.9, label='MWR 3C LWP')
ax.plot(t, v, color=ORANGE, lw=2.0, label='Phy-Iter LWP')
ax.plot(t2, v2, color='purple', lw=1.0, label='Adiabatic LWP')
minute_spans(ax, dq_flag_runs[11], 'cyan', 0.5)
minute_spans(ax, dq_flag_runs[4], (0.8, 0.8, 0.8), 0.5)
ax.set_ylim(-0.1, 4.5)
ax.set_yticks(np.arange(0, 4.51, 0.5))
style(ax, 'log10 Liquid Water Path, log10(g/m$^2$)')
legend(ax, loc='lower left', bbox_to_anchor=(0.0655, 0.047))

# panel 5
ax = axes[4]
for flag, runs in dq_flag_runs.items():
    ks = np.concatenate([np.arange(a, b + 1) for a, b in runs])
    ax.plot(21 + (ks + 0.5) / 60, np.full(ks.size, flag), ls='none', marker='o', ms=1.9, mew=0,
            color=ORANGE)
ax.set_ylim(-0.5, 11.5)
ax.set_yticks(np.arange(0, 11, 2))
style(ax, 'MWR Phy Iter DQ Flag')

fig.savefig('out.png', dpi=300, facecolor='white')
